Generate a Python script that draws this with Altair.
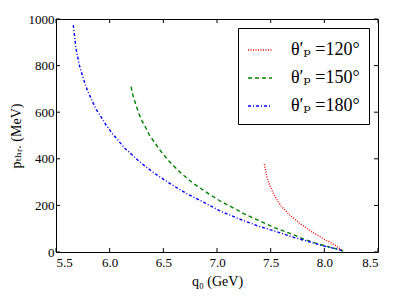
import altair as alt
import pandas as pd

# ---- data ----
q_120 = [7.441, 7.457, 7.472, 7.503, 7.540, 7.596, 7.674, 7.767, 7.892, 8.000, 8.093, 8.162, 8.175]
p_120 = [377, 338, 310, 274, 238, 198, 160, 124, 84, 55, 31, 9, 4]

q_150 = [6.199, 6.220, 6.245, 6.270, 6.301, 6.339, 6.369, 6.462, 6.556, 6.665, 6.789,
         6.913, 7.021, 7.115, 7.254, 7.394, 7.534, 7.674, 7.829, 7.969, 8.125, 8.175]
p_150 = [710, 667, 631, 596, 563, 531, 503, 441, 388, 338, 291,
         253, 221, 198, 164, 134, 105, 81, 52, 31, 12, 4]

q_180 = [5.661, 5.686, 5.717, 5.749, 5.795, 5.873, 5.919, 5.966, 6.022, 6.136, 6.276,
         6.416, 6.571, 6.727, 6.882, 7.037, 7.208, 7.379, 7.550, 7.720, 7.860, 7.985,
         8.125, 8.162, 8.175]
p_180 = [974, 874, 803, 752, 690, 613, 581, 545, 510, 448, 388,
         338, 291, 248, 212, 174, 142, 112, 88, 62, 44, 27,
         12, 6, 4]

series_names = ["θ′ₚ =120°", "θ′ₚ =150°", "θ′ₚ =180°"]
series_colors = ["#ff0000", "#008000", "#0000ff"]
series_dashes = [[1, 1.5], [4, 3], [3, 2, 1, 2]]

x_ticks = [5.5, 6.0, 6.5, 7.0, 7.5, 8.0, 8.5]
y_ticks = [0, 200, 400, 600, 800, 1000]

rows = []
for name, qs, ps in zip(series_names, [q_120, q_150, q_180], [p_120, p_150, p_180]):
    for i, (q, p) in enumerate(zip(qs, ps)):
        rows.append({"series": name, "q": q, "p": p, "order": i})
df = pd.DataFrame(rows)

W, H = 322, 233
FONT = "'Liberation Serif', 'DejaVu Serif', serif"

xs = alt.Scale(domain=[5.5, 8.5], nice=False, zero=False)
ys = alt.Scale(domain=[0, 1000], nice=False)

lines = alt.Chart(df).mark_line(strokeWidth=1.4).encode(
    x=alt.X("q:Q", scale=xs,
            axis=alt.Axis(values=x_ticks, format=".1f", ticks=False, labelPadding=4,
                          labelFontSize=13,
                          title="q₀  (GeV)", titlePadding=5, titleFontSize=14,
                          titleFontWeight="normal", grid=False)),
    y=alt.Y("p:Q", scale=ys,
            axis=alt.Axis(values=y_ticks, format="d", ticks=False, labelPadding=2,
                          labelFontSize=13,
                          title="pₜₕᵣ.  (MeV)", titlePadding=5, titleFontSize=14,
                          titleFontWeight="normal", grid=False)),
    color=alt.Color("series:N",
                    scale=alt.Scale(domain=series_names, range=series_colors),
                    legend=alt.Legend(title=None)),
    strokeDash=alt.StrokeDash("series:N",
                              scale=alt.Scale(domain=series_names, range=series_dashes),
                              legend=alt.Legend(title=None)),
    order="order:Q",
)

xt = pd.DataFrame({"q": x_ticks})
yt = pd.DataFrame({"p": y_ticks})
tick_bottom = alt.Chart(xt).mark_rule(color="black", strokeWidth=1).encode(
    x=alt.X("q:Q", scale=xs), y=alt.value(H), y2=alt.value(H - 4))
tick_top = alt.Chart(xt).mark_rule(color="black", strokeWidth=1).encode(
    x=alt.X("q:Q", scale=xs), y=alt.value(0), y2=alt.value(4))
tick_left = alt.Chart(yt).mark_rule(color="black", strokeWidth=1).encode(
    y=alt.Y("p:Q", scale=ys), x=alt.value(0), x2=alt.value(4))
tick_right = alt.Chart(yt).mark_rule(color="black", strokeWidth=1).encode(
    y=alt.Y("p:Q", scale=ys), x=alt.value(W), x2=alt.value(W - 4))

chart = alt.layer(lines, tick_bottom, tick_top, tick_left, tick_right).properties(
    width=W, height=H,
    padding={"left": 1, "top": 5, "right": 5, "bottom": 5},
).configure(
    font=FONT
).configure_view(
    stroke="black", strokeWidth=1
).configure_axis(
    domain=False, labelColor="black", titleColor="black",
    labelFont=FONT, titleFont=FONT
).configure_legend(
    orient="top-right", offset=9, strokeColor="black", fillColor="white",
    padding=9, labelFont=FONT, labelFontSize=18, labelColor="black",
    symbolType="stroke", symbolSize=576, symbolStrokeWidth=1.4,
    labelOffset=18, rowPadding=6, cornerRadius=0
)

chart.save("out.html", embed_options={"renderer": "svg", "actions": False})
